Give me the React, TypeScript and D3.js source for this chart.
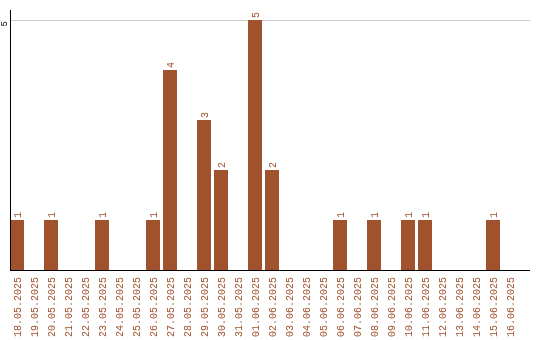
import React from "react";
import * as d3 from "d3";

const dates: string[] = [
  "18.05.2025","19.05.2025","20.05.2025","21.05.2025","22.05.2025","23.05.2025",
  "24.05.2025","25.05.2025","26.05.2025","27.05.2025","28.05.2025","29.05.2025",
  "30.05.2025","31.05.2025","01.06.2025","02.06.2025","03.06.2025","04.06.2025",
  "05.06.2025","06.06.2025","07.06.2025","08.06.2025","09.06.2025","10.06.2025",
  "11.06.2025","12.06.2025","13.06.2025","14.06.2025","15.06.2025","16.06.2025",
];
const counts: number[] = [
  1,0,1,0,0,1,
  0,0,1,4,0,3,
  2,0,5,2,0,0,
  0,1,0,1,0,1,
  1,0,0,0,1,0,
];
const yTicks: number[] = [5];

const W = 540, H = 340;
const left = 10, right = 530, top = 20, bottom = 270;
const BAR = "#A0522D";
const FONT = "'Liberation Mono', 'DejaVu Sans Mono', monospace";

export default function App() {
  const x = d3.scaleBand<string>()
    .domain(dates)
    .range([left, left + 17 * dates.length - 3])
    .paddingInner(3 / 17)
    .paddingOuter(0)
    .align(0);
  const bw = x.bandwidth();
  const y = d3.scaleLinear().domain([0, 5]).range([bottom, top]);
  return (
    <svg width={W} height={H} style={{ position: "fixed", left: 0, top: 0 }} fontFamily={FONT}>
      {yTicks.map((t) => (
        <g key={t}>
          <line x1={left} x2={right} y1={y(t) + 0.5} y2={y(t) + 0.5} stroke="#cccccc" strokeWidth={1} />
          <text transform={`translate(7,${y(t) + 1}) rotate(-90)`} textAnchor="end" fontSize={9} fill="#000">{t}</text>
        </g>
      ))}
      {dates.map((d, i) =>
        counts[i] > 0 ? (
          <g key={d}>
            <rect x={x(d)} y={y(counts[i])} width={bw} height={y(0) - y(counts[i])} fill={BAR} />
            <text transform={`translate(${(x(d) as number) + bw / 2 + 3.5},${y(counts[i]) - 2}) rotate(-90)`} fontSize={10} fill={BAR}>{counts[i]}</text>
          </g>
        ) : null
      )}
      <line x1={left + 0.5} x2={left + 0.5} y1={10} y2={bottom} stroke="#000" strokeWidth={1} />
      <line x1={left} x2={right} y1={bottom + 0.5} y2={bottom + 0.5} stroke="#000" strokeWidth={1} />
      {dates.map((d) => (
        <text key={d} transform={`translate(${(x(d) as number) + bw / 2 + 3.5},277) rotate(-90)`} textAnchor="end" fontSize={10} fill={BAR}>{d}</text>
      ))}
    </svg>
  );
}
